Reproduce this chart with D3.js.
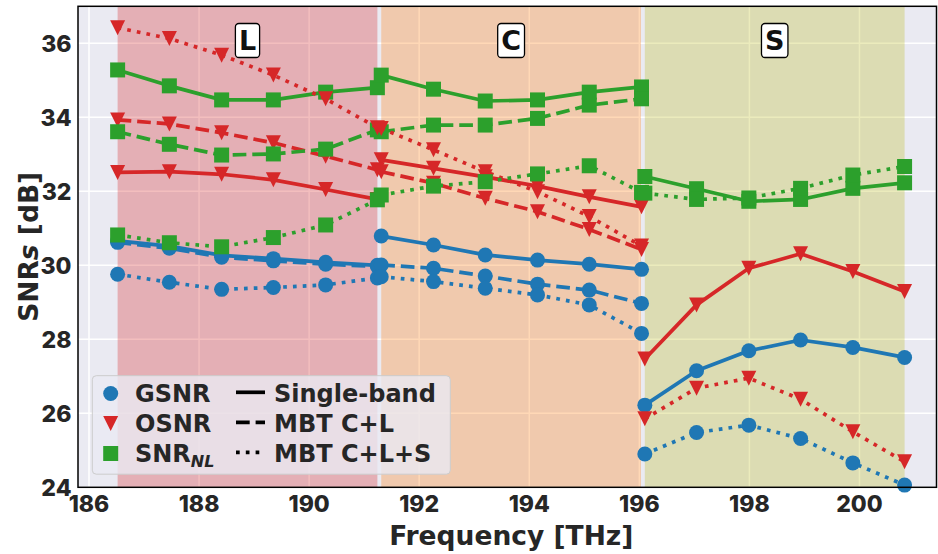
<!DOCTYPE html>
<html>
<head>
<meta charset="utf-8">
<script src="https://cdn.jsdelivr.net/npm/d3@7"></script>
<style>
  body { margin: 0; background: #ffffff; }
  svg { display: block; }
</style>
</head>
<body>
<svg id="chart" width="938" height="554"></svg>
<script>
// Channel frequencies per band [THz]
const freqL = [186.52, 187.46, 188.41, 189.35, 190.30, 191.24];
const freqC = [191.31, 192.26, 193.20, 194.15, 195.09, 196.04];
const freqS = [196.10, 197.04, 197.99, 198.93, 199.88, 200.82];

// Band labels and spans [THz]
const bandNames = ["L", "C", "S"];
const bandStart = [186.52, 191.31, 196.10];
const bandEnd = [191.24, 196.03, 200.82];

// L band [dB]
const gsnrL_single = [30.66, 30.52, 30.27, 30.18, 30.08, 30.00];
const gsnrL_cl     = [30.62, 30.46, 30.22, 30.12, 30.03, 29.97];
const gsnrL_cls    = [29.76, 29.54, 29.35, 29.40, 29.47, 29.66];
const osnrL_single = [32.51, 32.53, 32.46, 32.31, 32.05, 31.78];
const osnrL_cl     = [33.93, 33.82, 33.58, 33.31, 32.95, 32.58];
const osnrL_cls    = [36.42, 36.13, 35.68, 35.14, 34.50, 33.72];
const snrnlL_single = [35.28, 34.85, 34.47, 34.47, 34.68, 34.80];
const snrnlL_cl     = [33.61, 33.27, 32.98, 33.01, 33.14, 33.66];
const snrnlL_cls    = [30.82, 30.61, 30.50, 30.75, 31.09, 31.77];

// C band [dB]
const gsnrC_single = [30.79, 30.55, 30.28, 30.14, 30.03, 29.89];
const gsnrC_cl     = [30.01, 29.92, 29.71, 29.49, 29.33, 28.97];
const gsnrC_cls    = [29.69, 29.56, 29.38, 29.20, 28.93, 28.16];
const osnrC_single = [32.85, 32.62, 32.39, 32.14, 31.85, 31.58];
const osnrC_cl     = [32.53, 32.22, 31.81, 31.45, 30.97, 30.43];
const osnrC_cls    = [33.70, 33.12, 32.53, 31.99, 31.32, 30.52];
const snrnlC_single = [35.14, 34.76, 34.44, 34.47, 34.68, 34.82];
const snrnlC_cl     = [33.61, 33.79, 33.79, 33.97, 34.33, 34.50];
const snrnlC_cls    = [31.90, 32.14, 32.26, 32.47, 32.69, 31.97];

// S band [dB] (not present in the C+L scenario)
const gsnrS_single = [26.22, 27.15, 27.69, 27.98, 27.78, 27.51];
const gsnrS_cls    = [24.90, 25.48, 25.68, 25.32, 24.66, 24.06];
const osnrS_single = [27.47, 28.93, 29.92, 30.31, 29.83, 29.29];
const osnrS_cls    = [25.85, 26.68, 26.95, 26.38, 25.50, 24.69];
const snrnlS_single = [32.40, 32.07, 31.73, 31.78, 32.08, 32.23];
const snrnlS_cls    = [31.95, 31.78, 31.82, 32.08, 32.44, 32.67];

// Axis ticks
const xTicks = [186, 188, 190, 192, 194, 196, 198, 200];
const yTicks = [24, 26, 28, 30, 32, 34, 36];

// Styling
const metricColor = { gsnr: "#1f77b4", osnr: "#d62728", snrnl: "#2ca02c" };
const bandColor = ["#d62728", "#ff7f0e", "#bcbd22"];
const LW = 3.7, MS = 15;
const dashFor = { single: null, cl: `${3.7 * LW},${1.6 * LW}`, cls: `${LW},${1.65 * LW}` };
const textFont = "'DejaVu Sans', sans-serif";
const tickFont = "Inter, 'DejaVu Sans', sans-serif";
const ink = "#262626";

const svg = d3.select("#chart");
const x = d3.scaleLinear().domain([185.8, 201.4]).range([78, 936.5]);
const y = d3.scaleLinear().domain([24, 37]).range([487.3, 6.3]);
const [x0, x1] = x.range();
const [y0, y1] = y.range();

// Background
svg.append("rect").attr("x", x0).attr("y", y1).attr("width", x1 - x0).attr("height", y0 - y1)
  .attr("fill", "#eaeaf2");

// Grid
const grid = svg.append("g");
grid.selectAll(".gx").data(xTicks).join("line")
  .attr("x1", d => x(d)).attr("x2", d => x(d)).attr("y1", y1).attr("y2", y0)
  .attr("stroke", "#ffffff").attr("stroke-width", 1.5);
grid.selectAll(".gy").data(yTicks).join("line")
  .attr("x1", x0).attr("x2", x1).attr("y1", d => y(d)).attr("y2", d => y(d))
  .attr("stroke", "#ffffff").attr("stroke-width", 1.5);

// Band spans
svg.append("g").selectAll("rect").data(bandNames).join("rect")
  .attr("x", (d, i) => x(bandStart[i]))
  .attr("width", (d, i) => x(bandEnd[i]) - x(bandStart[i]))
  .attr("y", y1).attr("height", y0 - y1)
  .attr("fill", (d, i) => bandColor[i]).attr("fill-opacity", 0.3);

// Marker symbols
const symbolFor = {
  gsnr: d3.symbol().type(d3.symbolCircle).size(Math.PI * (MS / 2) * (MS / 2)),
  snrnl: d3.symbol().type(d3.symbolSquare).size(MS * MS)
};
function triPath(s) {
  const h = s / 2;
  return `M${-h},${-h}L${h},${-h}L0,${h}Z`;
}
function drawMarker(g, metric, cx, cy) {
  const p = g.append("path").attr("fill", metricColor[metric])
    .attr("transform", `translate(${cx},${cy})`);
  if (metric === "osnr") p.attr("d", triPath(MS));
  else p.attr("d", symbolFor[metric]());
}

const plot = svg.append("g");
const line = d3.line().x(d => x(d[0])).y(d => y(d[1]));
function series(freqs, vals, metric, scen) {
  const pts = freqs.map((f, i) => [f, vals[i]]);
  const g = plot.append("g");
  g.append("path").attr("d", line(pts)).attr("fill", "none")
    .attr("stroke", metricColor[metric]).attr("stroke-width", LW)
    .attr("stroke-linejoin", "round")
    .attr("stroke-dasharray", dashFor[scen]);
  pts.forEach(p => drawMarker(g, metric, x(p[0]), y(p[1])));
}

// Drawing order: single-band, C+L, C+L+S; within each GSNR, OSNR, SNR_NL
series(freqL, gsnrL_single, "gsnr", "single");
series(freqL, osnrL_single, "osnr", "single");
series(freqL, snrnlL_single, "snrnl", "single");
series(freqC, gsnrC_single, "gsnr", "single");
series(freqC, osnrC_single, "osnr", "single");
series(freqC, snrnlC_single, "snrnl", "single");
series(freqS, gsnrS_single, "gsnr", "single");
series(freqS, osnrS_single, "osnr", "single");
series(freqS, snrnlS_single, "snrnl", "single");

series(freqL, gsnrL_cl, "gsnr", "cl");
series(freqL, osnrL_cl, "osnr", "cl");
series(freqL, snrnlL_cl, "snrnl", "cl");
series(freqC, gsnrC_cl, "gsnr", "cl");
series(freqC, osnrC_cl, "osnr", "cl");
series(freqC, snrnlC_cl, "snrnl", "cl");

series(freqL, gsnrL_cls, "gsnr", "cls");
series(freqL, osnrL_cls, "osnr", "cls");
series(freqL, snrnlL_cls, "snrnl", "cls");
series(freqC, gsnrC_cls, "gsnr", "cls");
series(freqC, osnrC_cls, "osnr", "cls");
series(freqC, snrnlC_cls, "snrnl", "cls");
series(freqS, gsnrS_cls, "gsnr", "cls");
series(freqS, osnrS_cls, "osnr", "cls");
series(freqS, snrnlS_cls, "snrnl", "cls");

// Band name boxes
bandNames.forEach((name, i) => {
  const cx = x((bandStart[i] + bandEnd[i]) / 2);
  const g = svg.append("g");
  const t = g.append("text").attr("x", cx).attr("y", 50)
    .attr("text-anchor", "middle").attr("font-family", textFont)
    .attr("font-weight", "bold").attr("font-size", 27).attr("fill", "#111")
    .text(name);
  const bb = t.node().getBBox();
  g.insert("rect", "text")
    .attr("x", cx - Math.max(bb.width, 17) / 2 - 3.5).attr("y", 23.5)
    .attr("width", Math.max(bb.width, 17) + 7).attr("height", 34)
    .attr("rx", 3.5).attr("fill", "#ffffff").attr("stroke", "#000").attr("stroke-width", 1.3);
});

// Frame
svg.append("rect").attr("x", x0).attr("y", y1).attr("width", x1 - x0).attr("height", y0 - y1)
  .attr("fill", "none").attr("stroke", "#000").attr("stroke-width", 1.5);

// Tick labels
svg.append("g").selectAll("text").data(xTicks).join("text")
  .attr("x", d => x(d)).attr("y", 511.5).attr("text-anchor", "middle")
  .attr("font-family", tickFont).attr("font-weight", 800).attr("font-size", 23)
  .attr("fill", ink).text(d => d);
svg.append("g").selectAll("text").data(yTicks).join("text")
  .attr("x", 71.5).attr("y", d => y(d) + 8.5).attr("text-anchor", "end")
  .attr("font-family", tickFont).attr("font-weight", 800).attr("font-size", 23)
  .attr("fill", ink).text(d => d);

// Axis titles
svg.append("text").attr("x", (x0 + x1) / 2 + 4).attr("y", 545)
  .attr("text-anchor", "middle").attr("font-family", textFont)
  .attr("font-weight", "bold").attr("font-size", 26.5).attr("fill", ink)
  .text("Frequency [THz]");
const yl = svg.append("text")
  .attr("transform", `translate(38,${(y0 + y1) / 2}) rotate(-90)`)
  .attr("text-anchor", "middle").attr("font-family", textFont)
  .attr("font-weight", "bold").attr("font-size", 26.5).attr("fill", ink);
yl.append("tspan").text("SNR");
yl.append("tspan").attr("font-style", "italic").text("s");
yl.append("tspan").text(" [dB]");

// Legend
const leg = svg.append("g");
leg.append("rect").attr("x", 92.3).attr("y", 375.7).attr("width", 358).attr("height", 98.5)
  .attr("rx", 4).attr("fill", "#eaeaf2").attr("fill-opacity", 0.8)
  .attr("stroke", "#cccccc").attr("stroke-width", 1);
const rowY = [393.5, 423.5, 453.5];
const metricKeys = ["gsnr", "osnr", "snrnl"];
const metricLabels = ["GSNR", "OSNR", "SNR"];
const scenKeys = ["single", "cl", "cls"];
const scenLabels = ["Single-band", "MBT C+L", "MBT C+L+S"];
metricKeys.forEach((m, i) => {
  drawMarker(leg, m, 110.7, rowY[i]);
  const t = leg.append("text").attr("x", 135).attr("y", rowY[i] + 8.8)
    .attr("font-family", textFont).attr("font-weight", "bold").attr("font-size", 24)
    .attr("fill", ink).text(metricLabels[i]);
  if (m === "snrnl") {
    t.append("tspan").attr("font-style", "italic").attr("font-size", 16)
      .attr("dy", 5).text("NL");
  }
});
scenKeys.forEach((s, i) => {
  leg.append("line").attr("x1", 236).attr("x2", 265)
    .attr("y1", rowY[i] - 1.2).attr("y2", rowY[i] - 1.2)
    .attr("stroke", "#000").attr("stroke-width", LW)
    .attr("stroke-dasharray", dashFor[s]);
  leg.append("text").attr("x", 274).attr("y", rowY[i] + 8.8)
    .attr("font-family", textFont).attr("font-weight", "bold").attr("font-size", 24)
    .attr("fill", ink).text(scenLabels[i]);
});
</script>
</body>
</html>
